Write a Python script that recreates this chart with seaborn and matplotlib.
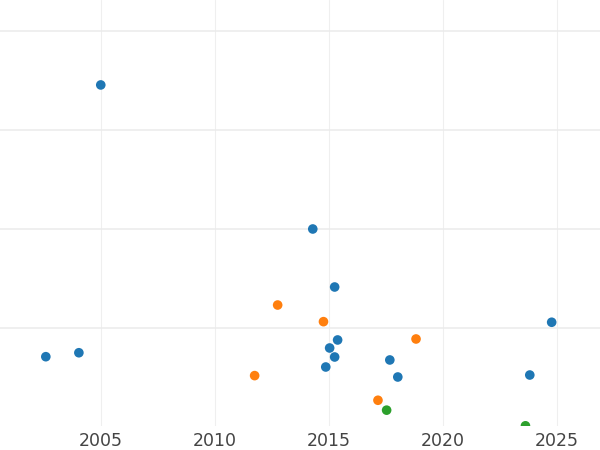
import pandas as pd
import matplotlib
matplotlib.use("Agg")
import matplotlib.pyplot as plt
import seaborn as sns

# points (annee, valeur, groupe)
annees_a = [2002.59, 2004.04, 2005.0, 2014.30, 2015.26, 2015.39, 2015.04, 2015.26,
            2014.87, 2017.68, 2018.03, 2024.78, 2023.82]
valeurs_a = [0.71, 0.75, 3.455, 2.0, 1.414, 0.879, 0.798, 0.707,
             0.606, 0.677, 0.505, 1.058, 0.525]
annees_b = [2012.76, 2011.75, 2014.77, 2018.83, 2017.16]
valeurs_b = [1.232, 0.519, 1.064, 0.889, 0.270]
annees_c = [2017.54, 2023.63]
valeurs_c = [0.170, 0.012]
groupes = ["A", "B", "C"]
x_ticks = [2005, 2010, 2015, 2020, 2025]
y_ticks = [1, 2, 3, 4]

df = pd.DataFrame({
    "annee": annees_a + annees_b + annees_c,
    "valeur": valeurs_a + valeurs_b + valeurs_c,
    "groupe": [groupes[0]] * len(annees_a) + [groupes[1]] * len(annees_b) + [groupes[2]] * len(annees_c),
})

sns.set_style("whitegrid", {"grid.color": "#ebebeb", "axes.edgecolor": "white"})

fig = plt.figure(figsize=(6, 4.5), dpi=100)
ax = fig.add_axes([0, 24 / 450, 1, 426 / 450])

sns.scatterplot(data=df, x="annee", y="valeur", hue="groupe", hue_order=groupes,
                palette=["#1f77b4", "#ff7f0e", "#2ca02c"], s=48, linewidth=0,
                legend=False, ax=ax)

ax.set_xlim(2000.58, 2026.9)
ax.set_ylim(0.01, 4.313)
ax.set_xticks(x_ticks)
ax.set_yticks(y_ticks)
ax.set_yticklabels([])
ax.set_xlabel("")
ax.set_ylabel("")
ax.grid(True, axis="y", color="#ebebeb", linewidth=1.1)
ax.grid(True, axis="x", color="#efefef", linewidth=0.8)
ax.tick_params(axis="x", labelsize=12.5, colors="#444444", length=0, pad=4)
ax.tick_params(axis="y", length=0)
for s in ax.spines.values():
    s.set_visible(False)

fig.savefig("out.png", dpi=100)
